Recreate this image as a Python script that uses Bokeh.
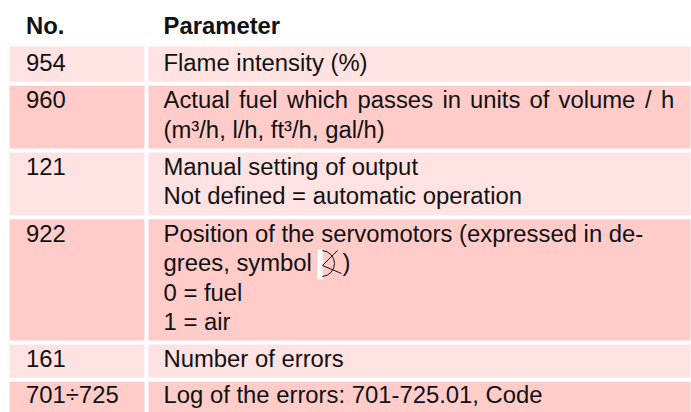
from bokeh.plotting import figure
from bokeh.embed import file_html
from bokeh.resources import INLINE
from bokeh.models import Range1d
from bokeh.core.properties import value

headers = ["No.", "Parameter"]
numbers = ["954", "960", "121", "922", "161", "701÷725"]
parameters = [
    ["Flame intensity (%)"],
    ["Actual fuel which passes in units of volume / h", "(m³/h, l/h, ft³/h, gal/h)"],
    ["Manual setting of output", "Not defined = automatic operation"],
    ["Position of the servomotors (expressed in de-", "grees, symbol", "0 = fuel", "1 = air"],
    ["Number of errors"],
    ["Log of the errors: 701-725.01, Code"],
]
closing_paren = ")"

# layout (page pixels)
FONT = "Liberation Sans"
SIZE = "23.85px"
BASE_SHIFT = 8.5
row_top = [46, 85.3, 152, 218.7, 344, 381.3]
row_bottom = [81.3, 148, 214.7, 340, 377.3, 412]
col_left = [9, 148]
col_right = [144, 690]
fills = ["#FFE3E3", "#FFCCC9"]
header_base = 33
baselines = [[70], [107, 137], [174, 203], [241, 270, 300, 329], [366], [402.5]]
justified_x = [163, 238.5, 286.5, 357, 442, 469.5, 529, 558, 644.5, 660.5]
INK = "#111111"

p = figure(width=691, height=412, output_backend="svg", toolbar_location=None,
           x_range=Range1d(0, 691), y_range=Range1d(412, 0), min_border=0)
p.axis.visible = False
p.grid.visible = False
p.outline_line_color = None
p.background_fill_color = "white"

def put(xs, ys, texts, style="normal"):
    p.text(xs, [y - BASE_SHIFT for y in ys], text=texts, text_font=value(FONT), text_font_size=value(SIZE),
           text_font_style=style, text_color=INK, text_baseline="alphabetic", text_align="left")

for c in range(2):
    p.quad(left=[col_left[c]] * 6, right=[col_right[c]] * 6, top=row_top, bottom=row_bottom,
           fill_color=[fills[i % 2] for i in range(6)], line_color=None)

put([25.5, 163], [header_base] * 2, headers, "bold")
put([25.5] * 6, [b[0] for b in baselines], numbers)

for lines, bases in zip(parameters, baselines):
    for k, (line, base) in enumerate(zip(lines, bases)):
        if line.startswith("Actual"):
            put(justified_x, [base] * len(justified_x), line.split(" "))
        else:
            put([163], [base], [line])

# servomotor symbol on its white patch
p.quad(left=[317], right=[322.3], top=[249.3], bottom=[279], fill_color="white", line_color=None)
p.line([337, 322, 341], [250, 265, 273], line_color=INK, line_width=1)
p.arc(x=[321], y=[263], radius=[13], start_angle=[-1.5], end_angle=[1.5], line_color=INK, line_width=1)
put([342], [270], [closing_paren])

open("out.html", "w").write(file_html(p, INLINE))
